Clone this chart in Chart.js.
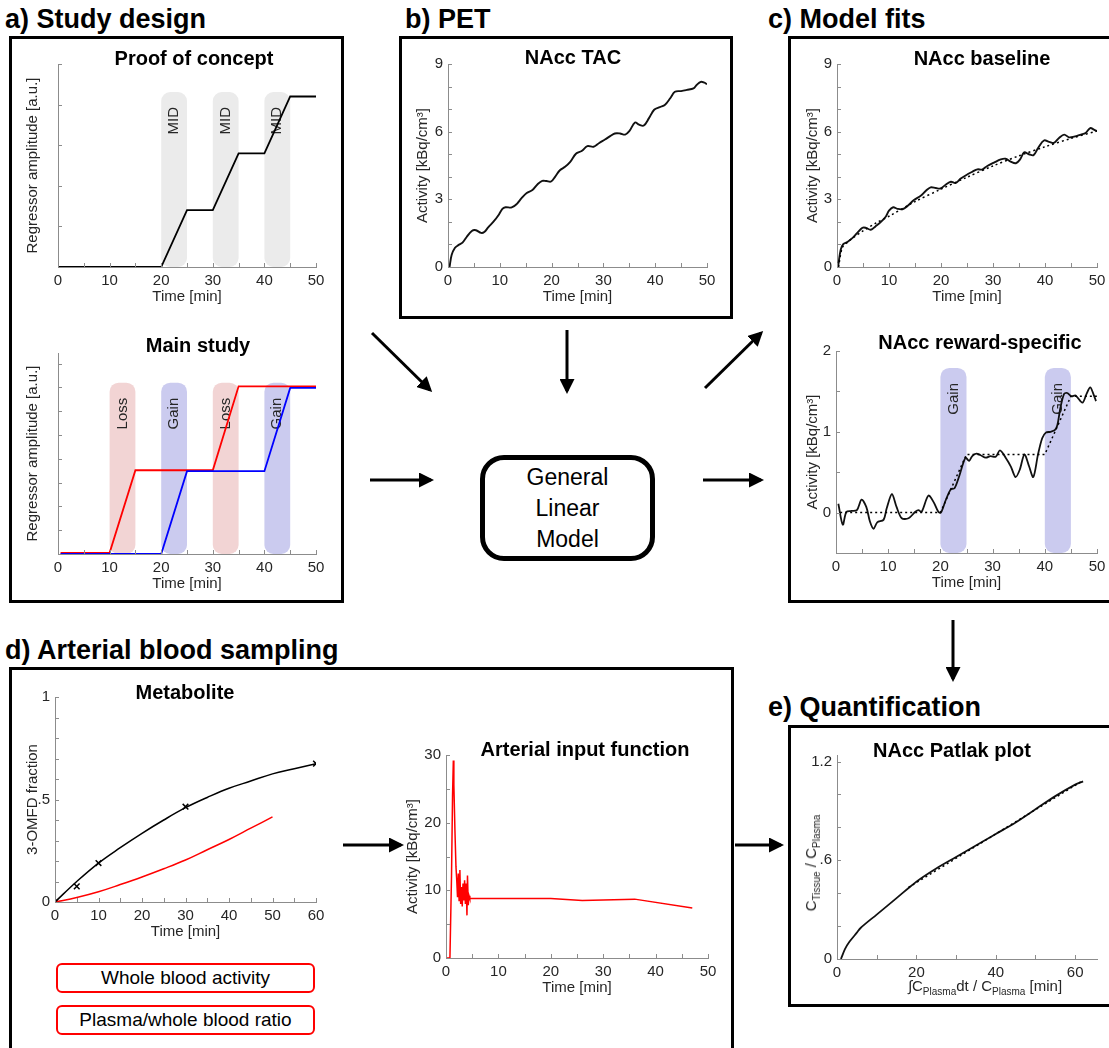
<!DOCTYPE html>
<html lang="en">
<head>
  <meta charset="UTF-8">
  <title>Study design, PET, model fits, blood sampling and quantification</title>
  <script src="https://cdn.jsdelivr.net/npm/chart.js"></script>
  <style>
    body { margin: 0; width: 1109px; height: 1048px; position: relative; overflow: hidden; background: #fff;
           font-family: Arial, "Liberation Sans", sans-serif; color: #000; }
    .head { position: absolute; font-weight: bold; font-size: 27px; line-height: 27px; white-space: nowrap; }
    .box { position: absolute; border: 3px solid #000; box-sizing: border-box; }
    .ttl { position: absolute; font-weight: bold; font-size: 20px; line-height: 20px; white-space: nowrap;
           transform: translate(-50%, -50%); }
    .wrap { position: absolute; }
    .glm { position: absolute; left: 480px; top: 455px; width: 175px; height: 106px; box-sizing: border-box;
           border: 5px solid #000; border-radius: 24px; display: flex; align-items: center; justify-content: center;
           text-align: center; font-size: 23px; line-height: 31px; }
    .redbox { position: absolute; left: 56px; width: 259px; height: 30px; box-sizing: border-box;
              border: 2px solid #f00; border-radius: 6px; text-align: center; font-size: 19px; line-height: 26px; }
    .axt { position: absolute; font-size: 15px; white-space: nowrap; color: #262626; }
    .axt sub { font-size: 10px; }
  </style>
</head>
<body>
  <div class="head" style="left:5px; top:6px">a) Study design</div>
  <div class="head" style="left:405px; top:6px">b) PET</div>
  <div class="head" style="left:768px; top:6px">c) Model fits</div>
  <div class="head" style="left:5px; top:637px">d) Arterial blood sampling</div>
  <div class="head" style="left:768px; top:694px">e) Quantification</div>

  <div class="box" style="left:9px; top:36px; width:335px; height:567px"></div>
  <div class="box" style="left:399px; top:36px; width:334px; height:283px"></div>
  <div class="box" style="left:788px; top:36px; width:330px; height:567px"></div>
  <div class="box" style="left:9px; top:667px; width:725px; height:400px"></div>
  <div class="box" style="left:788px; top:725px; width:330px; height:282px"></div>

  <div class="glm">General<br>Linear<br>Model</div>
  <div class="redbox" style="top:963px">Whole blood activity</div>
  <div class="redbox" style="top:1005px">Plasma/whole blood ratio</div>

  <div class="wrap" id="pocWrap"></div>
  <div class="wrap" id="mainWrap"></div>
  <div class="wrap" id="tacWrap"></div>
  <div class="wrap" id="baseWrap"></div>
  <div class="wrap" id="rewWrap"></div>
  <div class="wrap" id="metWrap"></div>
  <div class="wrap" id="aifWrap"></div>
  <div class="wrap" id="patWrap"></div>

  <div class="ttl" style="left:194px; top:58px">Proof of concept</div>
  <div class="ttl" style="left:198px; top:345px">Main study</div>
  <div class="ttl" style="left:573px; top:57px">NAcc TAC</div>
  <div class="ttl" style="left:982px; top:58px">NAcc baseline</div>
  <div class="ttl" style="left:980px; top:342px">NAcc reward-specific</div>
  <div class="ttl" style="left:185px; top:692px">Metabolite</div>
  <div class="ttl" style="left:585px; top:749px">Arterial input function</div>
  <div class="ttl" style="left:952px; top:750px">NAcc Patlak plot</div>

  <div class="axt" style="left:812px; top:863px; transform: translate(-50%, -50%) rotate(-90deg)">C<sub>Tissue</sub> / C<sub>Plasma</sub></div>
  <div class="axt" style="left:985px; top:987px; transform: translate(-50%, -50%)">&int;C<sub>Plasma</sub>dt / C<sub>Plasma</sub> [min]</div>

  <svg width="1109" height="1048" style="position:absolute; left:0; top:0; pointer-events:none">
    <defs>
      <marker id="ah" markerWidth="5" markerHeight="5" refX="4" refY="2.5" orient="auto" markerUnits="strokeWidth">
        <path d="M0,0 L5,2.5 L0,5 z" fill="#000"/>
      </marker>
    </defs>
    <g stroke="#000" stroke-width="3" marker-end="url(#ah)">
      <line x1="372" y1="333" x2="430" y2="390"/>
      <line x1="370" y1="480" x2="431" y2="480"/>
      <line x1="567" y1="330" x2="567" y2="391"/>
      <line x1="705" y1="388" x2="761" y2="333"/>
      <line x1="703" y1="480" x2="761" y2="480"/>
      <line x1="953" y1="620" x2="953" y2="679"/>
      <line x1="343" y1="845" x2="401" y2="845"/>
      <line x1="735" y1="845" x2="781" y2="845"/>
    </g>
  </svg>

  <script>
    // a) proof of concept regressor
    const pocTime = [0, 20, 25, 30, 35, 40, 45, 50];
    const pocAmp = [0, 0, 1.4, 1.4, 2.8, 2.8, 4.2, 4.2];
    const midBlocks = [[20, 25], [30, 35], [40, 45]];

    // a) main study regressors
    const lossTime = [0.5, 10, 15, 30, 35, 50];
    const lossAmp = [0.05, 0.05, 3.52, 3.52, 7.05, 7.05];
    const gainTime = [0.5, 20, 25, 40, 45, 50];
    const gainAmp = [0, 0, 3.48, 3.48, 6.98, 6.98];
    const lossBlocks = [[10, 15], [30, 35]];
    const gainBlocks = [[20, 25], [40, 45]];

    // b) NAcc time activity curve
    const tacTime = [0.3, 0.7, 1.35, 2.0, 2.8, 3.6, 4.6, 5.4, 6.4, 7.0, 7.8, 8.9, 9.7, 10.5, 11.1, 12.3, 13.3, 14.2, 15.2,
      16.3, 17.3, 18.2, 19.0, 19.9, 20.7, 21.6, 22.6, 23.6, 24.7, 25.8, 26.9, 28.1, 29.2, 30.3, 31.3, 32.2, 33.2, 34.2,
      35.0, 36.1, 36.9, 37.8, 38.8, 39.8, 40.9, 41.9, 42.9, 43.8, 45.0, 46.1, 47.4, 48.0, 48.8, 49.5, 50];
    const tacAct = [0, 0.53, 0.85, 0.97, 1.08, 1.33, 1.6, 1.63, 1.51, 1.55, 1.77, 2.04, 2.28, 2.58, 2.65, 2.64, 2.8, 3.05,
      3.28, 3.41, 3.67, 3.82, 3.81, 3.79, 4.01, 4.29, 4.44, 4.66, 5.02, 5.14, 5.36, 5.33, 5.5, 5.65, 5.8, 5.92, 5.92, 5.87,
      6.02, 6.41, 6.31, 6.27, 6.6, 6.97, 7.09, 7.19, 7.48, 7.77, 7.8, 7.85, 7.92, 8.07, 8.21, 8.17, 8.1];

    // c) baseline fit
    const baseTime = [0.2, 0.7, 1.2, 2.0, 3.0, 3.9, 4.9, 5.5, 6.5, 7.4, 8.4, 9.4, 10.0, 10.8, 11.6, 12.6, 13.5, 14.8, 16.1,
      17.1, 18.0, 19.0, 19.9, 20.9, 21.9, 22.8, 23.8, 25.1, 26.0, 27.0, 27.9, 28.9, 30.2, 31.5, 32.4, 33.4, 34.4, 35.2,
      36.0, 36.9, 37.8, 38.7, 39.8, 40.8, 41.7, 42.7, 43.7, 44.6, 45.6, 46.9, 47.8, 48.7, 49.4, 50];
    const baseAct = [0, 0.75, 1.01, 1.11, 1.29, 1.51, 1.74, 1.74, 1.65, 1.8, 1.99, 2.24, 2.5, 2.65, 2.58, 2.56, 2.69, 2.97,
      3.16, 3.38, 3.53, 3.5, 3.48, 3.65, 3.78, 3.72, 3.92, 4.11, 4.22, 4.33, 4.32, 4.48, 4.63, 4.77, 4.8, 4.67, 4.6, 4.77,
      5.08, 5.0, 4.96, 5.29, 5.61, 5.55, 5.5, 5.72, 5.87, 5.75, 5.78, 5.87, 5.94, 6.16, 6.09, 6.02];
    const baseFitTime = [0.3, 1, 2, 3, 5, 7.5, 10, 15, 20, 25, 30, 35, 40, 45, 50];
    const baseFit = [0, 0.85, 1.1, 1.28, 1.6, 1.95, 2.25, 2.9, 3.45, 3.98, 4.48, 4.93, 5.33, 5.7, 6.03];

    // c) reward-specific fit
    const rewTime = [0.45, 1.3, 2.0, 3.0, 4.0, 4.9, 5.8, 6.5, 7.2, 7.9, 9.1, 9.7, 10.7, 11.6, 12.6, 13.9, 15.2, 15.8, 16.4,
      17.7, 18.7, 19.6, 20.1, 21.0, 22.0, 22.7, 23.6, 24.8, 25.5, 26.1, 26.9, 27.7, 28.7, 29.6, 30.6, 31.4, 32.5, 33.5,
      34.4, 35.2, 36.1, 37.0, 37.8, 38.7, 39.5, 40.2, 41.1, 41.9, 42.4, 43.0, 43.7, 44.3, 45.1, 45.9, 47.2, 48.0, 48.7,
      49.3, 49.8];
    const rewAct = [0.11, -0.15, 0.01, 0.02, 0.03, 0.16, 0.07, -0.11, -0.2, -0.12, -0.09, 0.05, 0.23, 0.07, -0.07, -0.07,
      0.01, 0.03, 0.01, 0.21, 0.13, 0.01, 0.0, 0.15, 0.29, 0.3, 0.45, 0.68, 0.64, 0.70, 0.73, 0.71, 0.68, 0.70, 0.69, 0.77,
      0.68, 0.57, 0.44, 0.53, 0.72, 0.57, 0.44, 0.72, 0.92, 0.99, 1.0, 1.02, 1.08, 1.30, 1.47, 1.48, 1.44, 1.45, 1.36,
      1.47, 1.55, 1.47, 1.38];
    const rewFitTime = [0.8, 20, 25, 40, 45, 50];
    const rewFit = [0, 0, 0.72, 0.72, 1.44, 1.44];
    const rewBlocks = [[20, 25], [40, 45]];

    // d) metabolite fraction
    const metTime = [0, 5, 10, 15, 20, 25, 30, 35, 40, 45, 50, 55, 60];
    const metFrac = [0, 0.1, 0.19, 0.265, 0.335, 0.4, 0.46, 0.51, 0.555, 0.59, 0.625, 0.65, 0.675];
    const metSampleTime = [0, 5, 10, 30, 60];
    const metSampleFrac = [0, 0.076, 0.19, 0.465, 0.675];
    const ratioTime = [0, 5, 10, 15, 20, 25, 30, 35, 40, 45, 50];
    const ratioFrac = [0, 0.022, 0.05, 0.085, 0.122, 0.162, 0.205, 0.255, 0.305, 0.36, 0.415];

    // d) arterial input function
    const aifTime = [0, 0.75, 1.05, 1.25, 1.4, 1.5, 1.7, 1.9, 2.05, 2.2, 2.35, 2.5, 2.65, 2.8, 2.95, 3.1, 3.25, 3.4, 3.55,
      3.7, 3.85, 4.0, 4.1, 4.25, 4.4, 4.55, 4.7, 5.0, 20, 26, 36, 47];
    const aifAct = [0, 0, 12, 24, 29.2, 25.6, 19, 13.5, 11.5, 9, 12.5, 8.5, 13, 8, 10.5, 7.6, 11, 8.5, 11.5, 8, 11, 6.3,
      12.2, 7.8, 9.2, 8.8, 8.8, 8.8, 8.8, 8.5, 8.7, 7.4];

    // e) Patlak plot
    const patX = [1, 2, 3, 5, 6, 10, 15, 20, 25, 30, 35, 40, 45, 50, 55, 60, 62];
    const patY = [0, 0.06, 0.1, 0.16, 0.19, 0.27, 0.37, 0.47, 0.55, 0.62, 0.69, 0.76, 0.83, 0.91, 0.99, 1.06, 1.08];
    const patFitX = [18, 62];
    const patFitY = [0.435, 1.085];

    const axisGray = '#8c8c8c';
    const midGray = '#ebebeb', lossPink = '#f2d4d4', gainBlue = '#cbcbef';

    Chart.defaults.font.family = 'Arial, "Liberation Sans", sans-serif';
    Chart.defaults.font.size = 15;
    Chart.defaults.color = '#262626';

    const pts = (xs, ys) => xs.map((x, i) => ({ x: x, y: ys[i] }));
    const near = (v, step) => Math.abs(v / step - Math.round(v / step)) < 1e-6;
    const fmt = v => { const r = Math.round(v * 100) / 100; return r > 0 && r < 1 ? String(r).slice(1) : String(r); };

    // shaded task blocks with rotated labels
    const blocksPlugin = {
      id: 'blocks',
      beforeDatasetsDraw(chart, args, opts) {
        const { ctx, scales: { x, y } } = chart;
        (opts.items || []).forEach(b => {
          const l = x.getPixelForValue(b.range[0]), r = x.getPixelForValue(b.range[1]);
          const t = y.getPixelForValue(opts.top), bt = y.getPixelForValue(y.min);
          ctx.save();
          ctx.fillStyle = b.color;
          ctx.beginPath();
          ctx.roundRect(l, t, r - l, bt - t, 9);
          ctx.fill();
          ctx.translate((l + r) / 2, t + 15);
          ctx.rotate(-Math.PI / 2);
          ctx.textAlign = 'right';
          ctx.textBaseline = 'middle';
          ctx.font = '15px Arial, "Liberation Sans", sans-serif';
          ctx.fillStyle = '#262626';
          ctx.fillText(b.label, 0, 0);
          ctx.restore();
        });
      }
    };

    // matlab style ticks pointing into the axes
    const innerTicks = {
      id: 'innerTicks',
      afterDraw(chart) {
        const { ctx, chartArea: a, scales: { x, y } } = chart;
        ctx.save();
        ctx.strokeStyle = axisGray;
        ctx.lineWidth = 1;
        ctx.beginPath();
        x.ticks.forEach(t => {
          const px = Math.round(x.getPixelForValue(t.value)) + 0.5;
          ctx.moveTo(px, a.bottom); ctx.lineTo(px, a.bottom - 4);
        });
        y.ticks.forEach(t => {
          const py = Math.round(y.getPixelForValue(t.value)) + 0.5;
          ctx.moveTo(a.left, py); ctx.lineTo(a.left + 4, py);
        });
        ctx.stroke();
        ctx.restore();
      }
    };

    function makeChart(id, plot, c) {
      const yW = c.yW || 40, xH = 45, padT = 12, padR = 14;
      const wrap = document.getElementById(id);
      wrap.style.left = (plot[0] - yW) + 'px';
      wrap.style.top = (plot[1] - padT) + 'px';
      wrap.style.width = (plot[2] - plot[0] + yW + padR) + 'px';
      wrap.style.height = (plot[3] - plot[1] + padT + xH) + 'px';
      const canvas = document.createElement('canvas');
      wrap.appendChild(canvas);
      return new Chart(canvas, {
        type: 'line',
        data: { datasets: c.datasets },
        options: {
          responsive: true,
          maintainAspectRatio: false,
          animation: false,
          layout: { padding: { top: padT, right: padR, left: 0, bottom: 0 } },
          elements: { point: { radius: 0 } },
          plugins: { legend: { display: false }, tooltip: { enabled: false }, blocks: c.blocks || {} },
          scales: {
            x: {
              type: 'linear', min: c.x.min, max: c.x.max,
              grid: { display: false, drawTicks: false },
              border: { color: axisGray },
              ticks: { stepSize: c.x.step, autoSkip: false, maxRotation: 0, padding: 5, includeBounds: false,
                       callback: v => near(v, c.x.label) ? fmt(v) : '' },
              title: { display: !!c.x.title, text: c.x.title, font: { size: 15, lineHeight: 1.2 },
                       padding: { top: 0, bottom: 6 } },
              afterFit: s => { s.height = xH; }
            },
            y: {
              type: 'linear', min: c.y.min, max: c.y.max,
              grid: { display: false, drawTicks: false },
              border: { color: axisGray },
              ticks: { stepSize: c.y.step, autoSkip: false, padding: 5, includeBounds: false,
                       callback: v => (c.y.label && near(v, c.y.label)) ? fmt(v) : '' },
              title: { display: !!c.y.title, text: c.y.title, font: { size: 15, lineHeight: 1.2 },
                       padding: { top: yW - (c.y.off || 25) - 9, bottom: 0 } },
              afterFit: s => { s.width = yW; }
            }
          }
        },
        plugins: [blocksPlugin, innerTicks]
      });
    }

    const solid = (xs, ys, color, w, tension) => ({
      data: pts(xs, ys), borderColor: color, borderWidth: w, tension: tension || 0, fill: false
    });
    const dotted = (xs, ys, tension) => ({
      data: pts(xs, ys), borderColor: '#000', borderWidth: 1.5, borderDash: [2, 3], tension: tension || 0, fill: false
    });

    makeChart('pocWrap', [58, 62, 316, 267], {
      x: { min: 0, max: 50, step: 5, label: 10, title: 'Time [min]' },
      y: { min: 0, max: 5, step: 1, title: 'Regressor amplitude [a.u.]', off: 25 },
      blocks: { top: 4.31, items: midBlocks.map(r => ({ range: r, color: midGray, label: 'MID' })) },
      datasets: [solid(pocTime, pocAmp, '#000', 1.8)]
    });

    makeChart('mainWrap', [58, 351, 316, 554], {
      x: { min: 0, max: 50, step: 5, label: 10, title: 'Time [min]' },
      y: { min: 0, max: 8.45, step: 1, title: 'Regressor amplitude [a.u.]', off: 25 },
      blocks: { top: 7.2, items: lossBlocks.map(r => ({ range: r, color: lossPink, label: 'Loss' }))
                  .concat(gainBlocks.map(r => ({ range: r, color: gainBlue, label: 'Gain' }))) },
      datasets: [solid(gainTime, gainAmp, '#0000ff', 1.8), solid(lossTime, lossAmp, '#ff0000', 1.8)]
    });

    makeChart('tacWrap', [448, 62, 707, 267], {
      x: { min: 0, max: 50, step: 5, label: 10, title: 'Time [min]' },
      y: { min: 0, max: 9, step: 1, label: 3, title: 'Activity [kBq/cm³]', off: 25 },
      datasets: [solid(tacTime, tacAct, '#111', 1.9, 0.35)]
    });

    makeChart('baseWrap', [837, 62, 1097, 267], {
      x: { min: 0, max: 50, step: 5, label: 10, title: 'Time [min]' },
      y: { min: 0, max: 9, step: 1, label: 3, title: 'Activity [kBq/cm³]', off: 24 },
      datasets: [dotted(baseFitTime, baseFit, 0.3), solid(baseTime, baseAct, '#111', 1.9, 0.35)]
    });

    makeChart('rewWrap', [836, 349, 1097, 553], {
      x: { min: 0, max: 50, step: 5, label: 10, title: 'Time [min]' },
      y: { min: -0.5, max: 2, step: 0.5, label: 1, title: 'Activity [kBq/cm³]', off: 23 },
      blocks: { top: 1.79, items: rewBlocks.map(r => ({ range: r, color: gainBlue, label: 'Gain' })) },
      datasets: [dotted(rewFitTime, rewFit), solid(rewTime, rewAct, '#111', 1.8, 0.3)]
    });

    makeChart('metWrap', [55, 695, 316, 902], {
      x: { min: 0, max: 60, step: 5, label: 10, title: 'Time [min]' },
      y: { min: 0, max: 1, step: 0.1, label: 0.5, title: '3-OMFD fraction', off: 22 },
      datasets: [
        solid(metTime, metFrac, '#000', 1.5, 0.4),
        solid(ratioTime, ratioFrac, '#ff0000', 1.5, 0.4),
        { data: pts(metSampleTime, metSampleFrac), showLine: false, pointStyle: 'crossRot', pointRadius: 4,
          borderColor: '#000', borderWidth: 1.5 }
      ]
    });

    makeChart('aifWrap', [446, 753, 708, 958], {
      yW: 45,
      x: { min: 0, max: 50, step: 5, label: 10, title: 'Time [min]' },
      y: { min: 0, max: 30, step: 5, label: 10, title: 'Activity [kBq/cm³]', off: 33 },
      datasets: [solid(aifTime, aifAct, '#ff0000', 1.5)]
    });

    makeChart('patWrap', [837, 753, 1097, 959], {
      x: { min: 0, max: 65.5, step: 10, label: 20 },
      y: { min: 0, max: 1.24, step: 0.2, label: 0.6 },
      datasets: [dotted(patFitX, patFitY), solid(patX, patY, '#111', 1.8, 0.3)]
    });
  </script>
</body>
</html>
